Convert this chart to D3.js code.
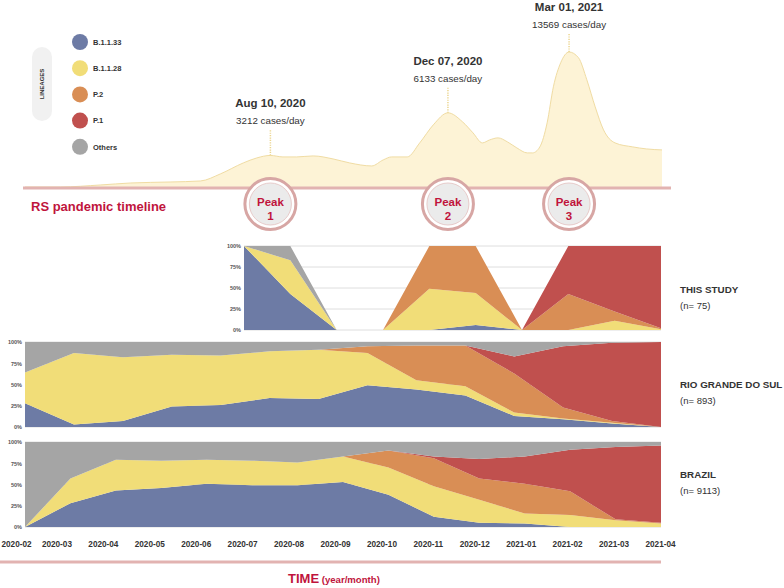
<!DOCTYPE html>
<html>
<head>
<meta charset="utf-8">
<script src="https://cdn.jsdelivr.net/npm/d3@7"></script>
<style>
  body { margin: 0; background: #fff; }
  svg { font-family: "Liberation Sans", Arial, Helvetica, sans-serif; }
</style>
</head>
<body>
<svg width="784" height="588"></svg>
<script>
// ---- data ----
const lineages = ['B.1.1.33', 'B.1.1.28', 'P.2', 'P.1', 'Others'];
const lineageColors = ['#6d7ba5', '#f1dd78', '#d98e55', '#c0504e', '#a5a5a5'];

const months = ['2020-02', '2020-03', '2020-04', '2020-05', '2020-06', '2020-07', '2020-08',
  '2020-09', '2020-10', '2020-11', '2020-12', '2021-01', '2021-02', '2021-03', '2021-04'];

// RS daily cases (moving average), x = weeks since Feb 2020
const caseWeeks = [0, 3.4, 7.2, 10.1, 13.9, 16.8, 18.7, 20.9, 22.2, 23.5, 24.7, 26.0, 27.6, 29.5,
  31.1, 33.2, 34.3, 35.1, 36.6, 37.8, 39.1, 40.5, 41.9, 42.9, 43.8, 44.5, 45.3, 46.2, 47.1, 48.1,
  48.6, 49.3, 50.0, 50.6, 51.3, 52.1, 53.0, 53.8, 54.6, 55.4, 56.5, 58.2, 59.5, 61];
const caseValues = [100, 100, 300, 500, 600, 700, 1400, 2500, 3000, 3250, 3100, 3100, 3200, 2900,
  2500, 2200, 2800, 3100, 3100, 4500, 6300, 7500, 6600, 5500, 4500, 4800, 5000, 4600, 4000, 3500,
  3500, 4100, 6500, 10100, 12500, 13569, 13000, 10800, 8100, 5800, 4500, 4100, 3900, 3800];

const peakDates = ['Aug 10, 2020', 'Dec 07, 2020', 'Mar 01, 2021'];
const peakCases = [3212, 6133, 13569];
const peakWeeks = [23.5, 40.5, 52.1];
const peakNames = ['1', '2', '3'];

// lineage shares (%) per panel
const studyMonths = months.slice(5);
const studyB1133 = [100, 43, 0, 0, 0, 6, 0, 0, 0, 0];
const studyB1128 = [0, 40, 0, 0, 49, 38, 0, 0, 11, 1];
const studyP2 = [0, 0, 0, 0, 51, 56, 0, 43, 11, 1];
const studyP1 = [0, 0, 0, 0, 0, 0, 0, 57, 78, 98];
const studyOthers = [0, 17, 0, 0, 0, 0, 0, 0, 0, 0];

const rsB1133 = [28, 3, 7, 24, 26, 34, 33, 49, 44, 37, 13, 9, 4, 0];
const rsB1128 = [36, 84, 75, 61, 58, 55, 58, 38, 11, 11, 4, 1, 1, 0];
const rsP2 = [0, 0, 0, 0, 0, 0, 0, 8, 41, 48, 46, 13, 2, 0];
const rsP1 = [0, 0, 0, 0, 0, 0, 0, 0, 0, 0, 20, 72, 92, 100];
const rsOthers = [36, 13, 18, 15, 16, 11, 9, 5, 4, 4, 17, 5, 1, 0];

const brB1133 = [0, 28, 43, 46, 51, 49, 49, 53, 38, 12, 5, 4, 0, 0, 0];
const brB1128 = [0, 29, 36, 32, 28, 29, 27, 30, 32, 36, 27, 12, 14, 8, 4];
const brP2 = [0, 0, 0, 0, 0, 0, 0, 0, 20, 33, 25, 35, 28, 1, 1];
const brP1 = [0, 0, 0, 0, 0, 0, 0, 0, 0, 2, 23, 32, 49, 85, 91];
const brOthers = [100, 43, 21, 22, 21, 22, 24, 17, 10, 17, 20, 17, 9, 6, 4];

const panelNames = ['THIS STUDY', 'RIO GRANDE DO SUL', 'BRAZIL'];
const panelN = ['(n= 75)', '(n= 893)', '(n= 9113)'];

const svg = d3.select('svg');
const crimson = '#c0143c';
const pink = '#e2b3b1';

// ---- legend ----
svg.append('rect')
  .attr('x', 32).attr('y', 47).attr('width', 20).attr('height', 74).attr('rx', 10)
  .attr('fill', '#f1f1f1');
svg.append('text')
  .attr('transform', 'translate(44,84) rotate(-90)')
  .attr('text-anchor', 'middle')
  .attr('font-size', 6).attr('font-weight', 'bold').attr('fill', '#333')
  .text('LINEAGES');

const legend = svg.append('g').selectAll('g')
  .data(lineages)
  .join('g')
  .attr('transform', (d, i) => `translate(80, ${42 + i * 26.2})`);
legend.append('circle').attr('r', 8).attr('fill', (d, i) => lineageColors[i]);
legend.append('text')
  .attr('x', 13).attr('y', 2.7)
  .attr('font-size', 7.5).attr('font-weight', 'bold').attr('fill', '#333')
  .text(d => d);

// ---- RS pandemic timeline ----
const xWeek = d3.scaleLinear().domain([0, 61]).range([25, 662]);
const yCases = d3.scaleLinear().domain([0, 13569]).range([188, 52]);
const cases = caseWeeks.map((w, i) => ({ week: w, value: caseValues[i] }));

svg.append('path')
  .datum(cases)
  .attr('fill', '#fdf3d6')
  .attr('d', d3.area().x(d => xWeek(d.week)).y0(yCases(0)).y1(d => yCases(d.value)).curve(d3.curveMonotoneX));
svg.append('path')
  .datum(cases)
  .attr('fill', 'none')
  .attr('stroke', '#f0dca3')
  .attr('stroke-width', 1)
  .attr('d', d3.line().x(d => xWeek(d.week)).y(d => yCases(d.value)).curve(d3.curveMonotoneX));

svg.append('line')
  .attr('x1', 23).attr('x2', 671).attr('y1', 188).attr('y2', 188)
  .attr('stroke', pink).attr('stroke-width', 3);

svg.append('text')
  .attr('x', 31).attr('y', 211)
  .attr('font-size', 13).attr('font-weight', 'bold').attr('fill', crimson)
  .text('RS pandemic timeline');

const peaks = peakWeeks.map((w, i) => {
  const curveY = yCases(caseValues[caseWeeks.indexOf(w)]);
  return { x: xWeek(w), curveY, top: Math.max(curveY - 26, 33), date: peakDates[i], cases: peakCases[i], name: peakNames[i] };
});

const peakLabel = svg.append('g').selectAll('g').data(peaks).join('g');
peakLabel.append('line')
  .attr('x1', d => d.x).attr('x2', d => d.x)
  .attr('y1', d => d.curveY).attr('y2', d => d.top)
  .attr('stroke', '#ecd58f').attr('stroke-width', 1.5).attr('stroke-dasharray', '1.2,1.2');
peakLabel.append('text')
  .attr('x', d => d.x).attr('y', d => d.top - 5)
  .attr('text-anchor', 'middle').attr('font-size', 9.8).attr('fill', '#333')
  .text(d => `${d.cases} cases/day`);
peakLabel.append('text')
  .attr('x', d => d.x).attr('y', d => d.top - 22)
  .attr('text-anchor', 'middle').attr('font-size', 11.5).attr('font-weight', 'bold').attr('fill', '#333')
  .text(d => d.date);

const badge = svg.append('g').selectAll('g').data(peaks).join('g')
  .attr('transform', d => `translate(${d.x}, 204)`);
badge.append('circle').attr('r', 25.5).attr('fill', '#fff').attr('stroke', '#d7a6a4').attr('stroke-width', 3);
badge.append('circle').attr('r', 21).attr('fill', '#ebebeb').attr('stroke', '#e7cbca').attr('stroke-width', 1);
badge.append('text')
  .attr('y', 1.5).attr('text-anchor', 'middle')
  .attr('font-size', 11.5).attr('font-weight', 'bold').attr('fill', crimson)
  .text('Peak');
badge.append('text')
  .attr('y', 15.5).attr('text-anchor', 'middle')
  .attr('font-size', 11.5).attr('font-weight', 'bold').attr('fill', crimson)
  .text(d => d.name);

// ---- stacked lineage panels ----
function buildRows(series) {
  return series[0].map((_, i) => {
    const row = { i };
    lineages.forEach((k, j) => { row[k] = series[j][i]; });
    return row;
  });
}

function drawPanel(rows, x0, x1, yTop, yBottom) {
  const x = d3.scalePoint().domain(rows.map(r => r.i)).range([x0, x1]);
  const y = d3.scaleLinear().domain([0, 100]).range([yBottom, yTop]);
  const g = svg.append('g');

  g.append('g').selectAll('line')
    .data([0, 25, 50, 75, 100])
    .join('line')
    .attr('x1', x0).attr('x2', x1)
    .attr('y1', d => y(d)).attr('y2', d => y(d))
    .attr('stroke', '#dedede').attr('stroke-width', 1);

  const stacked = d3.stack().keys(lineages)(rows);
  const area = d3.area()
    .x(d => x(d.data.i))
    .y0(d => y(d[0]))
    .y1(d => y(d[1]));
  g.append('g').selectAll('path')
    .data(stacked)
    .join('path')
    .attr('fill', (d, i) => lineageColors[i])
    .attr('d', area);

  const axis = g.append('g')
    .attr('transform', `translate(${x0 - 3}, 0)`)
    .call(d3.axisLeft(y).tickValues([0, 25, 50, 75, 100]).tickFormat(d => d + '%').tickSize(0).tickPadding(0));
  axis.select('.domain').remove();
  axis.selectAll('text')
    .attr('font-family', '"Liberation Sans", Arial, sans-serif')
    .attr('font-size', 5.5).attr('font-weight', 'bold').attr('fill', '#555');
}

drawPanel(buildRows([studyB1133, studyB1128, studyP2, studyP1, studyOthers]), 244, 661, 246, 330);
drawPanel(buildRows([rsB1133, rsB1128, rsP2, rsP1, rsOthers]), 25, 661, 342, 427);
drawPanel(buildRows([brB1133, brB1128, brP2, brP1, brOthers]), 25, 661, 442, 527);

// panel names
const names = svg.append('g').selectAll('g')
  .data(panelNames)
  .join('g')
  .attr('transform', (d, i) => `translate(680, ${[293, 388, 478][i]})`);
names.append('text')
  .attr('font-size', 9.8).attr('font-weight', 'bold').attr('fill', '#333')
  .text(d => d);
names.append('text')
  .attr('y', 15.5)
  .attr('font-size', 9.5).attr('fill', '#333')
  .text((d, i) => panelN[i]);

// ---- time axis ----
const xMonth = d3.scalePoint().domain(months).range([10, 660]);
const timeAxis = svg.append('g')
  .attr('transform', 'translate(0, 538)')
  .call(d3.axisBottom(xMonth).tickSize(0).tickPadding(3));
timeAxis.select('.domain').remove();
timeAxis.selectAll('text')
  .attr('font-family', '"Liberation Sans", Arial, sans-serif')
  .attr('font-size', 8.2).attr('font-weight', 'bold').attr('fill', '#333');
timeAxis.select('.tick text').attr('text-anchor', 'start').attr('x', -9);

svg.append('line')
  .attr('x1', 0).attr('x2', 661).attr('y1', 562).attr('y2', 562)
  .attr('stroke', pink).attr('stroke-width', 3);

const timeTitle = svg.append('text')
  .attr('x', 288).attr('y', 583)
  .attr('font-weight', 'bold').attr('fill', crimson);
timeTitle.append('tspan').attr('font-size', 13).text('TIME');
timeTitle.append('tspan').attr('font-size', 9.6).text(' (year/month)');
</script>
</body>
</html>
